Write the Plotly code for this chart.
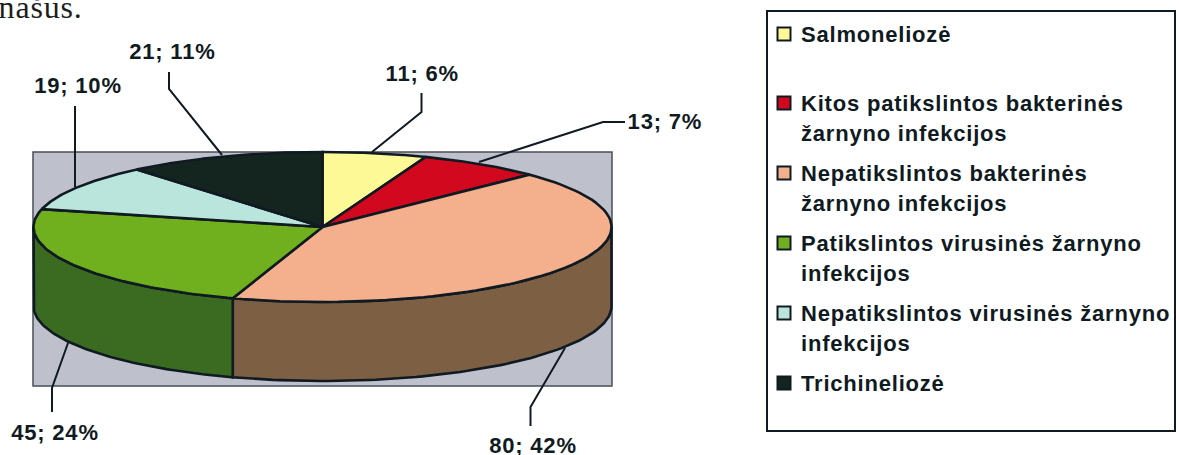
import numpy as np
import plotly.graph_objects as go

category_lines = [["Salmoneliozė"],
                  ["Kitos patikslintos bakterinės", "žarnyno infekcijos"],
                  ["Nepatikslintos bakterinės", "žarnyno infekcijos"],
                  ["Patikslintos virusinės žarnyno", "infekcijos"],
                  ["Nepatikslintos virusinės žarnyno", "infekcijos"],
                  ["Trichineliozė"]]
values = [11, 13, 80, 45, 19, 21]
percents = [6, 7, 42, 24, 10, 11]
top_colors = ["#FDF996", "#D2081F", "#F4B08C", "#70B01E", "#BAE5DC", "#14241F"]
side_colors = ["#80804C", "#69040F", "#7D5F43", "#3A6B20", "#5D726E", "#0A1210"]

INK = "#101A22"
FONT = "Liberation Sans, Arial, sans-serif"
CX, CY, RX, RY, DEPTH = 322.5, 227, 289, 75, 79

def pt(theta):
    return CX + RX * np.sin(theta), CY - RY * np.cos(theta)

fig = go.Figure()
fig.add_shape(type="rect", x0=33, x1=612, y0=152, y1=386, fillcolor="#BEC0CC",
              line=dict(color="#4A4F55", width=1.5), layer="below")

cum = np.cumsum([0] + values) / sum(values) * 2 * np.pi
# outer wall, drawn from the back towards the viewer
for i in range(len(values)):
    a0, a1 = max(cum[i], np.pi / 2), min(cum[i + 1], 3 * np.pi / 2)
    if a1 <= a0:
        continue
    t = np.linspace(a0, a1, 80)
    x, y = pt(t)
    px = np.r_[x, x[::-1], x[0]]
    py = np.r_[y, (y + DEPTH)[::-1], y[0]]
    fig.add_trace(go.Scatter(x=px, y=py, mode="lines", fill="toself", fillcolor=side_colors[i],
                             line=dict(color=INK, width=2.6), hoverinfo="skip", showlegend=False))
# top face
for i in range(len(values)):
    t = np.linspace(cum[i], cum[i + 1], 80)
    x, y = pt(t)
    px = np.r_[CX, x, CX]
    py = np.r_[CY, y, CY]
    fig.add_trace(go.Scatter(x=px, y=py, mode="lines", fill="toself", fillcolor=top_colors[i],
                             line=dict(color=INK, width=2.6), hoverinfo="skip", showlegend=False))

# leader lines and data labels
leaders = [
    ([421.5, 421.5, 372], [93, 112, 152]),
    ([625, 603, 479], [122, 122, 162]),
    ([530.5, 530.5, 565], [426, 407, 348]),
    ([52, 52, 68], [412, 388, 343]),
    ([75, 75], [106, 187]),
    ([169, 169, 222], [72, 89, 155]),
]
label_pos = [(422, 73, "center"), (628, 121, "left"), (533, 445, "center"),
             (54.5, 432, "center"), (77.5, 85, "center"), (172, 51, "center")]
for i, (lx, ly) in enumerate(leaders):
    fig.add_trace(go.Scatter(x=lx, y=ly, mode="lines", line=dict(color=INK, width=2),
                             hoverinfo="skip", showlegend=False))
    ax, ay, anchor = label_pos[i]
    fig.add_annotation(x=ax, y=ay, text=f"<b>{values[i]}; {percents[i]}%</b>", showarrow=False,
                       xanchor=anchor, yanchor="middle", font=dict(family=FONT, size=22, color=INK))

# legend box
fig.add_shape(type="rect", x0=767, x1=1175, y0=11, y1=431, fillcolor="white",
              line=dict(color=INK, width=2), layer="below")
legend_y = [34, 103, 173, 243, 313, 383]
LINE_STEP = 30
for i, lines in enumerate(category_lines):
    fig.add_trace(go.Scatter(x=[784], y=[legend_y[i]], mode="markers",
                             marker=dict(symbol="square", size=13, color=top_colors[i],
                                         line=dict(color=INK, width=2)),
                             hoverinfo="skip", showlegend=False))
    for j, line in enumerate(lines):
        fig.add_annotation(x=799, y=legend_y[i] + j * LINE_STEP, text=f"<b>{line}</b>", showarrow=False,
                           xanchor="left", yanchor="middle", align="left",
                           font=dict(family=FONT, size=22, color=INK))

# fragment of the surrounding page text
fig.add_annotation(x=0, xshift=-1, y=7, text="našus.", showarrow=False, xanchor="left", yanchor="middle",
                   font=dict(family="Liberation Serif, serif", size=32, color="#1E1E1E"))

fig.update_layout(width=1179, height=455, margin=dict(l=0, r=0, t=0, b=0), showlegend=False,
                  paper_bgcolor="white", plot_bgcolor="white",
                  xaxis=dict(range=[0, 1179], visible=False, fixedrange=True),
                  yaxis=dict(range=[455, 0], visible=False, fixedrange=True))
fig.write_html("out.html", config={"displayModeBar": False},
               post_script="document.body.style.margin='0';document.body.style.overflow='hidden';"
                           "document.querySelectorAll('.annotation-text').forEach(function(e){"
                           "e.style.letterSpacing='0.8px';});")
